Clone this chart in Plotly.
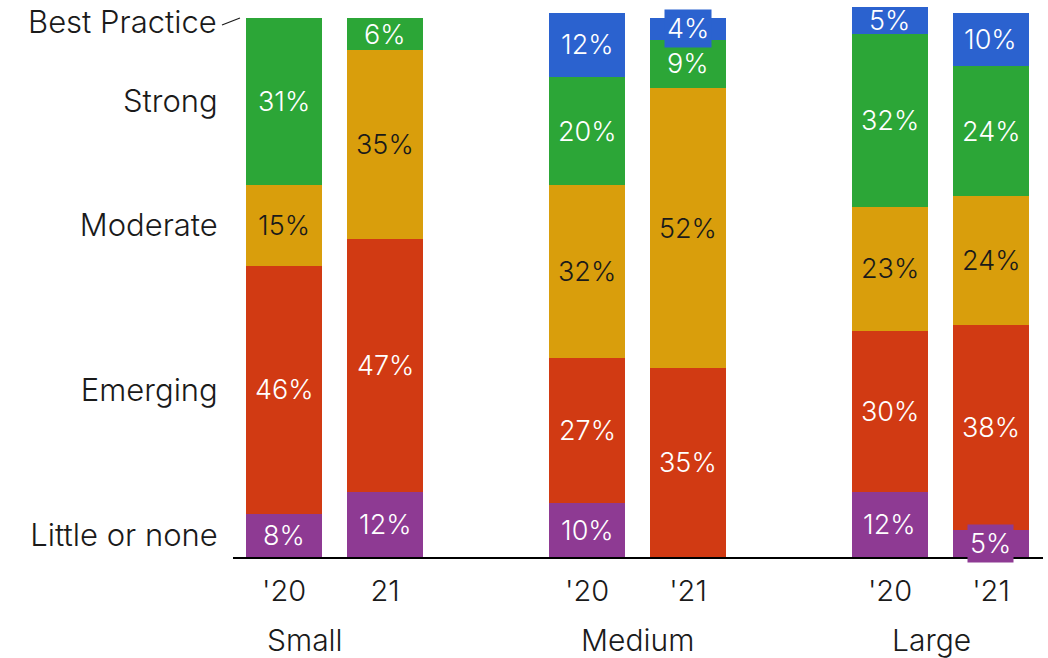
import plotly.graph_objects as go

# Bar positions: two survey years within each firm-size group
bar_x = [0, 1, 3, 4, 6, 7]
year_labels = ["'20", "21", "'20", "'21", "'20", "'21"]
groups = ["Small", "Medium", "Large"]
group_label_x = [0.21, 3.5, 6.41]

levels = ["Little or none", "Emerging", "Moderate", "Strong", "Best Practice"]
colors = ["#8E3A93", "#D13A13", "#D99E0C", "#2CA637", "#2B62CF"]
text_colors = ["white", "white", "#1a1a1a", "white", "white"]

# Share of respondents (%) per level, one value per bar
little = [8, 12, 10, 0, 12, 5]
emerging = [46, 47, 27, 35, 30, 38]
moderate = [15, 35, 32, 52, 23, 24]
strong = [31, 6, 20, 9, 32, 24]
best = [0, 0, 12, 4, 5, 10]
series = [little, emerging, moderate, strong, best]

# Labels drawn on a filled badge because they spill past their segment
boxed = {(4, 3), (0, 5)}

FONT = "Inter"
INK = "#1a1a1a"
W = 300
fig = go.Figure()

for name, vals, col in zip(levels, series, colors):
    fig.add_trace(go.Bar(
        x=bar_x, y=vals, name=name, marker=dict(color=col, line=dict(width=0)),
        width=0.76, showlegend=False, hoverinfo="skip",
    ))

# Segment value labels
base = [0] * len(bar_x)
for li, vals in enumerate(series):
    for bi, v in enumerate(vals):
        if v > 0:
            mid = base[bi] + v / 2
            is_boxed = (li, bi) in boxed
            fig.add_annotation(
                x=bar_x[bi], y=mid, xref="x", yref="y", text=f"{v}%",
                showarrow=False,
                font=dict(family=FONT, size=27, color=text_colors[li], weight=W),
                bgcolor=colors[li] if is_boxed else None,
                borderpad=2,
            )
        base[bi] += v

# Level names aligned with the segments of the first bar
first = [s[0] for s in series]
tick_y = []
acc = 0
for v in first[:-1]:
    tick_y.append(acc + v / 2)
    acc += v
top_first = acc

fig.add_annotation(x=0, y=top_first, xref="paper", yref="y", text=levels[-1],
                   showarrow=False, xanchor="right", xshift=-14, yshift=-4,
                   font=dict(family=FONT, size=31, color=INK, weight=W))

# Leader tick from "Best Practice" to the top of the first bar
fig.add_shape(type="line", xref="paper", yref="y",
              x0=-0.0136, y0=top_first - 1.3, x1=0.0086, y1=top_first,
              line=dict(color=INK, width=1.2))

for g, gx in zip(groups, group_label_x):
    fig.add_annotation(x=gx, y=0, xref="x", yref="y", text=g, showarrow=False,
                       yshift=-83, font=dict(family=FONT, size=30, color=INK, weight=W))

fig.update_layout(
    barmode="stack",
    width=1048, height=658,
    margin=dict(l=233, r=5, t=5, b=101),
    paper_bgcolor="white", plot_bgcolor="white",
    font=dict(family=FONT, color=INK),
    xaxis=dict(
        range=[-0.505, 7.515], tickvals=bar_x, ticktext=year_labels,
        showline=True, linecolor="black", linewidth=2, showgrid=False,
        zeroline=False, ticks="outside", ticklen=7, tickcolor="rgba(0,0,0,0)",
        tickfont=dict(family=FONT, size=29, color=INK, weight=W),
    ),
    yaxis=dict(
        range=[0, 102.4], tickvals=tick_y, ticktext=levels[:-1],
        showline=False, showgrid=False, zeroline=False,
        ticks="outside", ticklen=8, tickcolor="rgba(0,0,0,0)",
        tickfont=dict(family=FONT, size=31, color=INK, weight=W),
    ),
)

fig.write_html("out.html")
